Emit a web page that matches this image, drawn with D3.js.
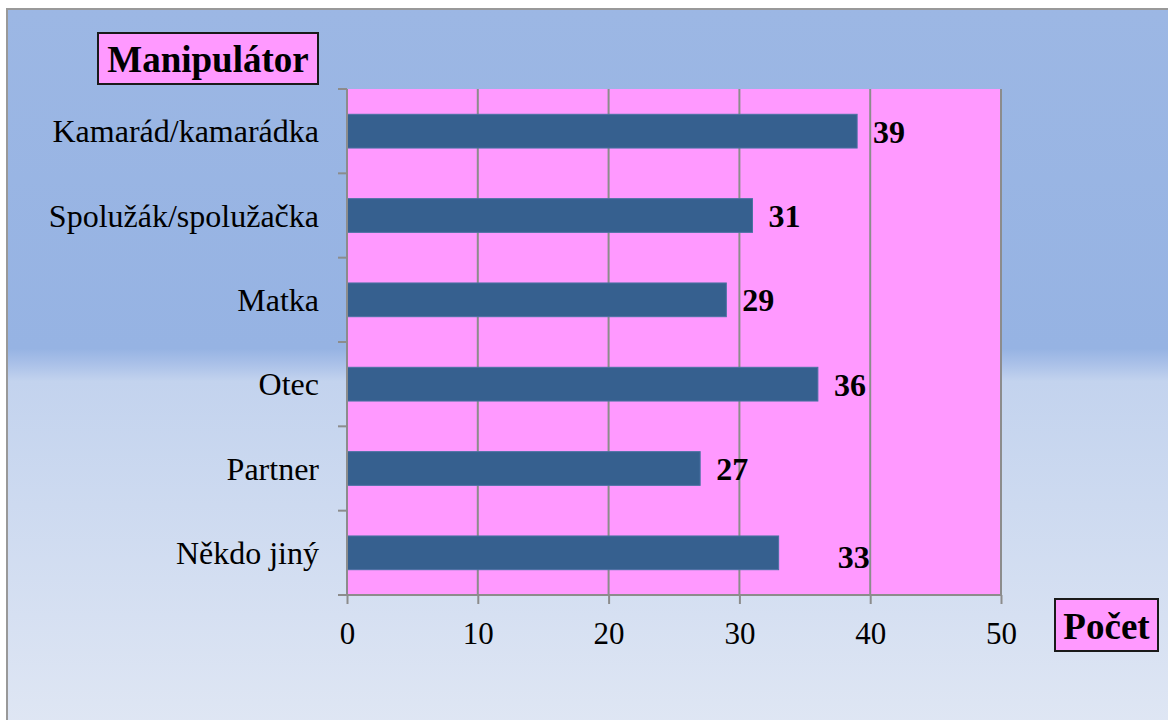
<!DOCTYPE html>
<html>
<head>
<meta charset="utf-8">
<script src="https://cdn.jsdelivr.net/npm/d3@7"></script>
<style>
  body { margin: 0; background: #ffffff; }
  svg { display: block; }
</style>
</head>
<body>
<svg id="chart"></svg>
<script>
// data
var categories = ["Kamarád/kamarádka", "Spolužák/spolužačka", "Matka", "Otec", "Partner", "Někdo jiný"];
var values = [39, 31, 29, 36, 27, 33];
var xTicks = [0, 10, 20, 30, 40, 50];
var yTitle = "Manipulátor", xTitle = "Počet";

var width = 1168, height = 720;
var margin = {left: 347, right: 167, top: 89, bottom: 125};
var serif = "'Liberation Serif', 'Times New Roman', serif";

var svg = d3.select("#chart").attr("width", width).attr("height", height);

// background gradient of the chart area
var defs = svg.append("defs");
var grad = defs.append("linearGradient").attr("id", "bg")
    .attr("x1", 0).attr("y1", 0).attr("x2", 0).attr("y2", 1);
[[0, "#9cb7e4"], [0.465, "#96b3e3"], [0.485, "#a9c0e8"], [0.51, "#c3d3ee"], [1, "#e0e7f4"]]
    .forEach(function(s){
        grad.append("stop").attr("offset", s[0]).attr("stop-color", s[1]);
    });

svg.append("rect")
    .attr("x", 7).attr("y", 9)
    .attr("width", width + 10).attr("height", height + 10)
    .attr("fill", "url(#bg)")
    .attr("stroke", "#999999")
    .attr("stroke-width", 2);

var x = d3.scaleLinear().domain([0, 50]).range([margin.left, width - margin.right]);
var y = d3.scaleBand().domain(categories)
    .range([margin.top, height - margin.bottom])
    .paddingInner(0.6).paddingOuter(0.3);
var band = d3.scaleBand().domain(categories).range([margin.top, height - margin.bottom]);

// plot area
svg.append("rect")
    .attr("x", x(0)).attr("y", margin.top)
    .attr("width", x(50) - x(0)).attr("height", height - margin.bottom - margin.top)
    .attr("fill", "#ff99ff");

// vertical gridlines
svg.append("g").selectAll("line")
    .data(xTicks.slice(1))
    .enter().append("line")
    .attr("x1", function(d){ return x(d); })
    .attr("x2", function(d){ return x(d); })
    .attr("y1", margin.top)
    .attr("y2", height - margin.bottom)
    .attr("stroke", "#8c8c8c")
    .attr("stroke-width", 2);

// bars
svg.append("g").selectAll("rect")
    .data(values)
    .enter().append("rect")
    .attr("x", x(0))
    .attr("y", function(d, i){ return y(categories[i]); })
    .attr("width", function(d){ return x(d) - x(0); })
    .attr("height", y.bandwidth())
    .attr("fill", "#36608f")
    .attr("stroke", "#4a72a3")
    .attr("stroke-width", 1);

// x axis
var xAxis = svg.append("g")
    .attr("transform", "translate(0," + (height - margin.bottom) + ")")
    .call(d3.axisBottom(x).tickValues(xTicks).tickSize(9).tickPadding(18));
xAxis.select(".domain").attr("stroke", "#8c8c8c").attr("stroke-width", 2)
    .attr("d", "M" + (x(0) - 9) + ",0H" + x(50));
xAxis.selectAll(".tick line").attr("stroke", "#8c8c8c").attr("stroke-width", 2);
xAxis.selectAll(".tick text")
    .style("font-family", serif).style("font-size", "31px").attr("fill", "#000");

// y axis: ticks on category boundaries
var yAxis = svg.append("g").attr("transform", "translate(" + x(0) + ",0)");
yAxis.append("line")
    .attr("x1", 0).attr("x2", 0)
    .attr("y1", margin.top).attr("y2", height - margin.bottom)
    .attr("stroke", "#8c8c8c").attr("stroke-width", 2);
var bounds = categories.map(function(c){ return band(c); });
yAxis.selectAll(".ytick")
    .data(bounds)
    .enter().append("line")
    .attr("class", "ytick")
    .attr("x1", -9).attr("x2", 0)
    .attr("y1", function(d){ return d; })
    .attr("y2", function(d){ return d; })
    .attr("stroke", "#8c8c8c").attr("stroke-width", 2);
yAxis.selectAll(".ylab")
    .data(categories)
    .enter().append("text")
    .attr("class", "ylab")
    .attr("x", -28)
    .attr("y", function(d){ return y(d) + y.bandwidth() / 2 + 11; })
    .attr("text-anchor", "end")
    .style("font-family", serif).style("font-size", "32px")
    .text(function(d){ return d; });

// value labels (the last one sits a little apart, as in the original)
svg.append("g").selectAll("text")
    .data(values)
    .enter().append("text")
    .attr("x", function(d, i){ return x(d) + (i === values.length - 1 ? 59 : 16); })
    .attr("y", function(d, i){ return y(categories[i]) + y.bandwidth() / 2 + (i === values.length - 1 ? 15 : 11.5); })
    .style("font-family", serif).style("font-size", "32px").style("font-weight", "bold")
    .text(function(d){ return d; });

// axis titles in boxes
function titleBox(text, bx, by, bw, bh, tx, ty){
    svg.append("rect")
        .attr("x", bx).attr("y", by).attr("width", bw).attr("height", bh)
        .attr("fill", "#ff99ff").attr("stroke", "#1a1a1a").attr("stroke-width", 2);
    svg.append("text")
        .attr("x", tx).attr("y", ty)
        .attr("text-anchor", "middle")
        .style("font-family", serif).style("font-size", "37px").style("font-weight", "bold")
        .text(text);
}
titleBox(yTitle, 98, 33, 220, 51, 208, 72);
titleBox(xTitle, 1055, 599, 103, 52, 1106.5, 639);
</script>
</body>
</html>
